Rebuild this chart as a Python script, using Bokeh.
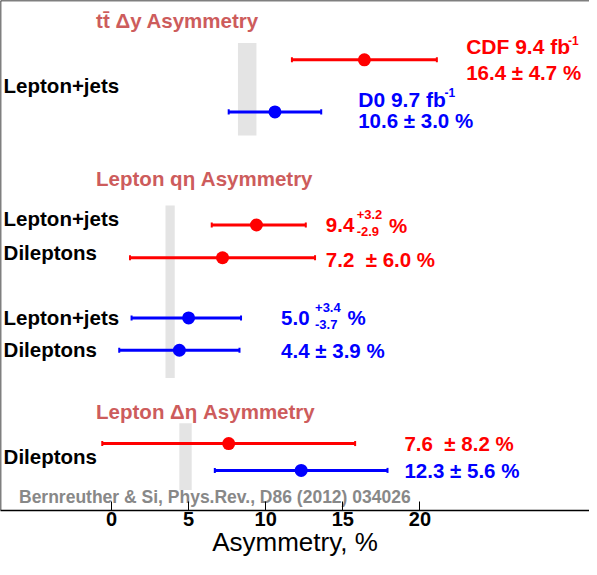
from bokeh.plotting import figure
from bokeh.models import Range1d, Span, FixedTicker
from bokeh.core.properties import value
from bokeh.embed import file_html
from bokeh.resources import INLINE

# ---------------- data ----------------
sections = ["tt\u0304  \u0394y Asymmetry", "Lepton q\u03b7 Asymmetry", "Lepton \u0394\u03b7 Asymmetry"]
channels_cdf = ["Lepton+jets", "Lepton+jets", "Dileptons", "Dileptons"]
channels_d0 = ["", "Lepton+jets", "Dileptons", ""]
cdf_val = [16.4, 9.4, 7.2, 7.6]
cdf_err_up = [4.7, 3.2, 6.0, 8.2]
cdf_err_dn = [4.7, 2.9, 6.0, 8.2]
d0_val = [10.6, 5.0, 4.4, 12.3]
d0_err_up = [3.0, 3.4, 3.9, 5.6]
d0_err_dn = [3.0, 3.7, 3.9, 5.6]
theory_val = [8.8, 3.8, 4.8]
theory_err = [0.6, 0.3, 0.4]
x_ticks = [0, 5, 10, 15, 20]
lumi_cdf = "9.4"
lumi_d0 = "9.7"
reference = "Bernreuther & Si, Phys.Rev., D86 (2012) 034026"

# ---------------- layout (vertical slots, frame offsets from top) ----------------
cdf_y = [58.7, 222.3, 254.7, 438.7]
d0_y = [110.3, 314.3, 346.3, 465.3]
band_top = [42.0, 203.0, 418.7]
band_bot = [133.7, 373.7, 484.7]
DY = -6.0  # text baseline correction

RED = "#ff0000"
BLUE = "#0000ff"
TITLE = "#cd5c5c"
FONT = "Liberation Sans"
NB = "\u00a0"

X0, X1 = -7.2, 31.0
p = figure(width=589, height=559, output_backend="svg", toolbar_location=None,
           x_range=Range1d(X0, X1), y_range=Range1d(505, 0),
           y_axis_location=None, min_border_left=0, min_border_right=0,
           min_border_top=0, min_border_bottom=0)
p.outline_line_color = None
p.grid.visible = False
p.background_fill_color = "white"

# frame lines (left and top)
p.add_layout(Span(location=X0, dimension="height", line_color="black", line_width=1.5))
p.add_layout(Span(location=0, dimension="width", line_color="black", line_width=1.5))

# theory bands
p.quad(left=[v - e for v, e in zip(theory_val, theory_err)],
       right=[v + e for v, e in zip(theory_val, theory_err)],
       top=band_top, bottom=band_bot, fill_color="#e4e4e4", line_color=None)

def draw(vals, up, dn, ys, color):
    lo = [v - d for v, d in zip(vals, dn)]
    hi = [v + u for v, u in zip(vals, up)]
    p.segment(x0=lo, x1=hi, y0=ys, y1=ys, line_color=color, line_width=3)
    p.rect(x=lo + hi, y=ys + ys, width=2, height=5, width_units="screen",
           fill_color=color, line_color=None)
    p.scatter(x=vals, y=ys, size=13, fill_color=color, line_color=None)

draw(cdf_val, cdf_err_up, cdf_err_dn, cdf_y, RED)
draw(d0_val, d0_err_up, d0_err_dn, d0_y, BLUE)

def txt(x, y, t, color, size, bold=True, align="left"):
    p.text(x=x, y=[v + DY for v in y], text=t, text_color=color, text_font=value(FONT),
           text_font_size=size, text_font_style="bold" if bold else "normal",
           text_baseline="alphabetic", text_align=align)

# section titles
txt([-1.0, -1.0, -1.0], [26, 182, 413], sections, TITLE, "20.5px")

# channel labels
txt([-7.0] * 6, [90.3, 222, 255.3, 319.7, 352, 458],
    [channels_cdf[0], channels_cdf[1], channels_cdf[2], channels_d0[1], channels_d0[2], channels_cdf[3]],
    "black", "20.5px")

def pm(v, e, gap=" "):
    return f"{v:.1f}{gap}\u00b1 {e:.1f} %"

# CDF / D0 ttbar numbers
txt([23.0], [52], [f"CDF {lumi_cdf} fb"], RED, "21px")
txt([29.6], [45.3], ["-1"], RED, "12px")
txt([23.0], [77], [pm(cdf_val[0], cdf_err_up[0])], RED, "20.5px")
txt([16.0], [103.7], [f"D0 {lumi_d0} fb"], BLUE, "21px")
txt([21.6], [97], ["-1"], BLUE, "12px")
txt([16.0], [124.7], [pm(d0_val[0], d0_err_up[0])], BLUE, "20.5px")

# lepton q-eta
txt([13.9], [228.7], [f"{cdf_val[1]:.1f}"], RED, "20.5px")
txt([15.9], [218], [f"+{cdf_err_up[1]:.1f}"], RED, "13px")
txt([15.9], [234.3], [f"-{cdf_err_dn[1]:.1f}"], RED, "13px")
txt([18.0], [228.7], ["%"], RED, "20.5px")
txt([13.9], [262], [pm(cdf_val[2], cdf_err_up[2], NB + " ")], RED, "20.5px")
txt([11.0], [320.3], [f"{d0_val[1]:.1f}"], BLUE, "20.5px")
txt([13.2], [309.7], [f"+{d0_err_up[1]:.1f}"], BLUE, "13px")
txt([13.2], [327], [f"-{d0_err_dn[1]:.1f}"], BLUE, "13px")
txt([15.3], [320.3], ["%"], BLUE, "20.5px")
txt([11.0], [352.7], [pm(d0_val[2], d0_err_up[2])], BLUE, "20.5px")

# lepton delta-eta
txt([19.0], [444.7], [pm(cdf_val[3], cdf_err_up[3], NB + " ")], RED, "20.5px")
txt([19.0], [471.3], [pm(d0_val[3], d0_err_up[3])], BLUE, "20.5px")

# reference
txt([-6.0], [498], [reference], "#888888", "17.5px")

# x axis
ax = p.xaxis[0]
ax.ticker = FixedTicker(ticks=x_ticks, minor_ticks=[])
ax.major_tick_in = 9
ax.major_tick_out = 0
ax.minor_tick_in = 0
ax.minor_tick_out = 0
ax.axis_line_width = 1.5
ax.major_tick_line_width = 1
ax.major_label_text_font = FONT
ax.major_label_text_font_style = "bold"
ax.major_label_text_font_size = "20px"
ax.major_label_text_color = "black"
ax.major_label_standoff = 1
ax.axis_label = "Asymmetry, %"
ax.axis_label_text_font = FONT
ax.axis_label_text_font_style = "normal"
ax.axis_label_text_font_size = "26px"
ax.axis_label_text_color = "black"
ax.axis_label_standoff = -2

open("out.html", "w").write(file_html(p, INLINE))
